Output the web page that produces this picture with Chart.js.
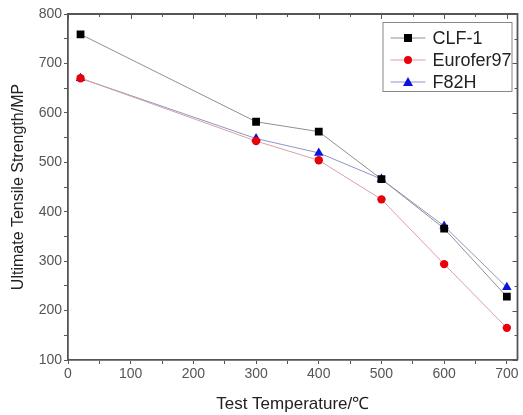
<!DOCTYPE html>
<html>
<head>
<meta charset="utf-8">
<script src="https://cdn.jsdelivr.net/npm/chart.js@4"></script>
<style>
  html, body { margin: 0; padding: 0; background: #fff; }
  #wrap { width: 523px; height: 415px; }
</style>
</head>
<body>
<div id="wrap"><canvas id="chart" width="523" height="415"></canvas></div>
<script>
const temps = [20, 300, 400, 500, 600, 700];
const clf1 = [759, 582, 562, 466, 366, 228];
const eurofer97 = [670, 543, 504, 425, 294, 165];
const f82h = [670, 548, 519, 466, 371, 247];

const xTicks = [0, 50, 100, 150, 200, 250, 300, 350, 400, 450, 500, 550, 600, 650, 700];
const yTicks = [100, 150, 200, 250, 300, 350, 400, 450, 500, 550, 600, 650, 700, 750, 800];

const FONT = "'Liberation Sans', Arial, sans-serif";

function pts(ys) {
    return temps.map((t, i) => ({ x: t, y: ys[i] }));
}

// frame on top/right with inward ticks, like the original plot
const framePlugin = {
    id: "frame",
    afterDraw(chart) {
        const { ctx, chartArea: a, scales } = chart;
        ctx.save();
        ctx.strokeStyle = "#555";
        ctx.lineWidth = 1.8;
        ctx.beginPath();
        ctx.moveTo(a.left, a.top);
        ctx.lineTo(a.right, a.top);
        ctx.lineTo(a.right, a.bottom);
        ctx.stroke();
        ctx.lineWidth = 1;
        xTicks.forEach(v => {
            const px = Math.round(scales.x.getPixelForValue(v)) + 0.5;
            const len = v % 100 === 0 ? 5 : 3;
            ctx.beginPath();
            ctx.moveTo(px, a.top);
            ctx.lineTo(px, a.top + len);
            ctx.stroke();
        });
        yTicks.forEach(v => {
            const py = Math.round(scales.y.getPixelForValue(v)) + 0.5;
            const len = v % 100 === 0 ? 5 : 3;
            ctx.beginPath();
            ctx.moveTo(a.right, py);
            ctx.lineTo(a.right - len, py);
            ctx.stroke();
        });
        ctx.restore();
    }
};

// legend box inside the plot, top right
const legendPlugin = {
    id: "boxLegend",
    afterDraw(chart) {
        const { ctx, chartArea: a } = chart;
        const bx = a.right - 135, by = a.top + 8, bw = 129, bh = 69;
        ctx.save();
        ctx.fillStyle = "#fff";
        ctx.fillRect(bx, by, bw, bh);
        ctx.strokeStyle = "#888";
        ctx.lineWidth = 1;
        ctx.strokeRect(bx + 0.5, by + 0.5, bw, bh);
        ctx.font = "18px " + FONT;
        ctx.textBaseline = "middle";
        chart.data.datasets.forEach((ds, i) => {
            const cy = by + 16 + i * 22;
            const lx = bx + 8, lx2 = bx + 43;
            ctx.strokeStyle = ds.borderColor;
            ctx.lineWidth = 1;
            ctx.beginPath();
            ctx.moveTo(lx, cy);
            ctx.lineTo(lx2, cy);
            ctx.stroke();
            ctx.fillStyle = ds.pointBackgroundColor;
            const mx = (lx + lx2) / 2;
            ctx.beginPath();
            if (ds.pointStyle === "rect") ctx.rect(mx - 4, cy - 4, 8, 8);
            else if (ds.pointStyle === "circle") ctx.arc(mx, cy, 4, 0, Math.PI * 2);
            else { ctx.moveTo(mx, cy - 5); ctx.lineTo(mx + 5, cy + 4); ctx.lineTo(mx - 5, cy + 4); ctx.closePath(); }
            ctx.fill();
            ctx.fillStyle = "#222";
            ctx.fillText(ds.label, bx + 50, cy + 1);
        });
        ctx.restore();
    }
};

new Chart(document.getElementById("chart"), {
    type: "line",
    data: {
        datasets: [
            {
                label: "CLF-1",
                data: pts(clf1),
                borderColor: "#909090",
                borderWidth: 1,
                pointStyle: "rect",
                pointRadius: 5.5,
                pointBackgroundColor: "#000",
                pointBorderColor: "#000",
                pointBorderWidth: 0
            },
            {
                label: "Eurofer97",
                data: pts(eurofer97),
                borderColor: "#d8a0a8",
                borderWidth: 1,
                pointStyle: "circle",
                pointRadius: 4.2,
                pointBackgroundColor: "#e8000b",
                pointBorderColor: "#e8000b",
                pointBorderWidth: 0
            },
            {
                label: "F82H",
                data: pts(f82h),
                borderColor: "#8f96c0",
                borderWidth: 1,
                pointStyle: "triangle",
                pointRadius: 5.5,
                pointBackgroundColor: "#0a14d8",
                pointBorderColor: "#0a14d8",
                pointBorderWidth: 0
            }
        ]
    },
    options: {
        responsive: false,
        animation: false,
        layout: { padding: { left: 5, top: 14, right: 1, bottom: 0 } },
        plugins: {
            legend: { display: false },
            tooltip: { enabled: false }
        },
        scales: {
            x: {
                type: "linear",
                min: 0,
                max: 717,
                afterBuildTicks: s => { s.ticks = xTicks.map(v => ({ value: v })); },
                afterFit: s => { s.height = 55; },
                border: { color: "#555", width: 1.8 },
                grid: { display: true, drawOnChartArea: false, tickLength: 4, color: "#555" },
                ticks: {
                    autoSkip: false,
                    maxRotation: 0,
                    color: "#555",
                    font: { family: FONT, size: 14 },
                    padding: 2,
                    callback: v => (v % 100 === 0 ? v : "")
                },
                title: {
                    display: true,
                    text: "Test Temperature/℃",
                    color: "#222",
                    font: { family: FONT, size: 17 },
                    padding: { top: 4, bottom: 0 }
                }
            },
            y: {
                type: "linear",
                min: 100,
                max: 800,
                afterBuildTicks: s => { s.ticks = yTicks.map(v => ({ value: v })); },
                afterFit: s => { s.width = 63; },
                border: { color: "#555", width: 1.8 },
                grid: { display: true, drawOnChartArea: false, tickLength: 4, color: "#555" },
                ticks: {
                    autoSkip: false,
                    color: "#555",
                    font: { family: FONT, size: 14 },
                    padding: 2,
                    callback: v => (v % 100 === 0 ? v : "")
                },
                title: {
                    display: true,
                    text: "Ultimate Tensile Strength/MP",
                    color: "#222",
                    font: { family: FONT, size: 16 },
                    padding: { bottom: 2 }
                }
            }
        }
    },
    plugins: [framePlugin, legendPlugin]
});
</script>
</body>
</html>
